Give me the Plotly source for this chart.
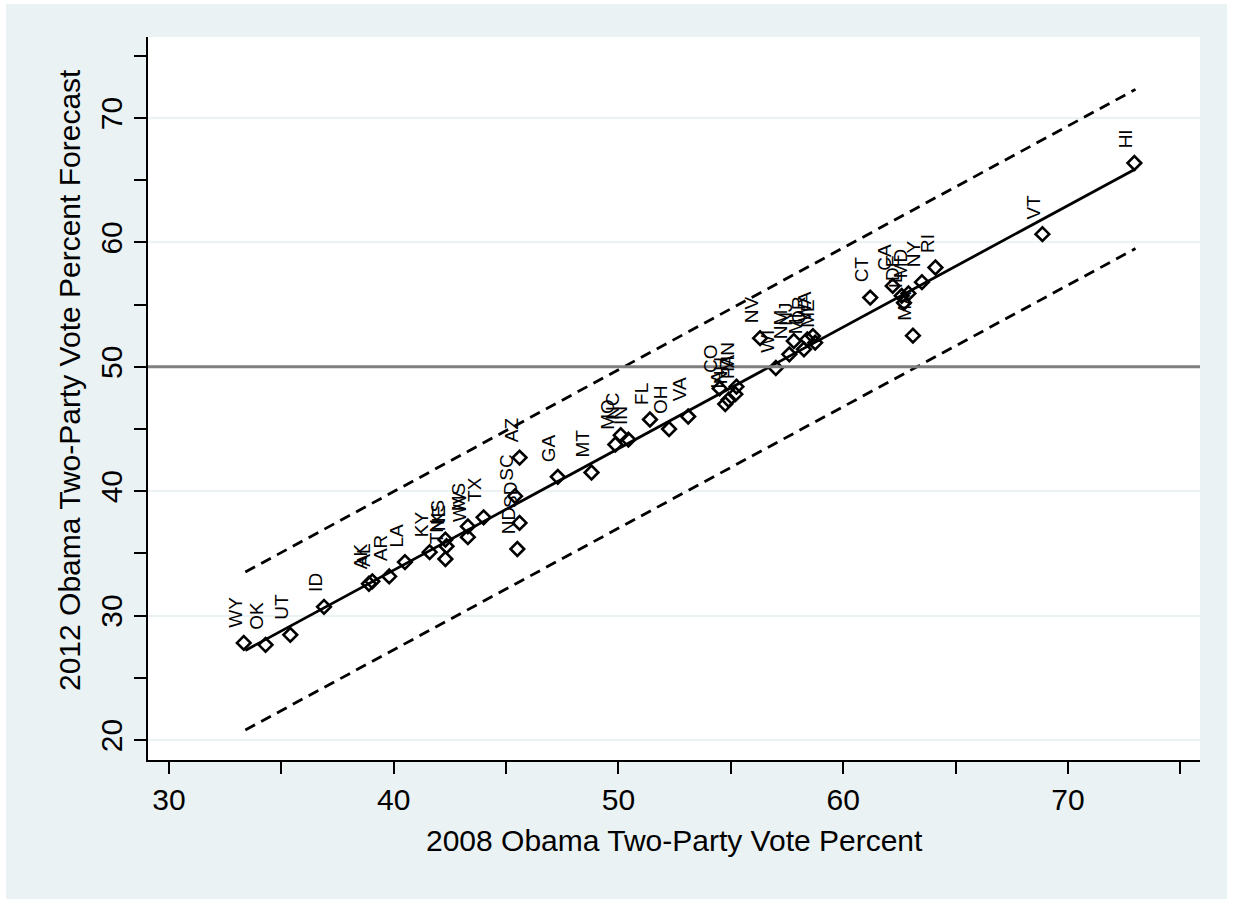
import plotly.graph_objects as go

# ---- data ----
states = ["WY", "OK", "UT", "ID", "AK", "AL", "AR", "LA", "KY", "KS", "NE", "TN",
          "MS", "WV", "TX", "ND", "SD", "SC", "AZ", "GA", "MT", "MO", "NC", "IN",
          "FL", "OH", "VA", "CO", "IA", "NH", "MN", "PA", "NV", "WI", "NM", "NJ",
          "MI", "OR", "WA", "ME", "CT", "CA", "DE", "IL", "MD", "MA", "NY", "RI",
          "VT", "HI"]
vote2008 = [33.33, 34.3, 35.4, 36.9, 38.9, 39.05, 39.8, 40.5, 41.6, 42.3, 42.35, 42.3,
            43.3, 43.3, 44.0, 45.5, 45.6, 45.4, 45.6, 47.3, 48.8, 49.86, 50.1, 50.44,
            51.4, 52.25, 53.1, 54.5, 54.75, 54.9, 55.25, 55.2, 56.3, 57.0, 57.6, 57.8,
            58.25, 58.4, 58.65, 58.75, 61.2, 62.2, 62.6, 62.7, 62.9, 63.1, 63.5, 64.1,
            68.86, 72.95]
forecast2012 = [27.8, 27.65, 28.45, 30.7, 32.56, 32.75, 33.15, 34.3, 35.1, 36.1, 35.57, 34.55,
                37.17, 36.3, 37.9, 35.35, 37.45, 39.6, 42.7, 41.15, 41.5, 43.75, 44.5, 44.15,
                45.76, 45.0, 46.0, 48.26, 47.0, 47.35, 48.4, 47.8, 52.3, 49.9, 51.0, 52.07,
                51.4, 52.2, 52.47, 51.94, 55.56, 56.5, 55.7, 55.15, 55.9, 52.5, 56.8, 57.98,
                60.66, 66.38]

# fitted line and dashed band (end points)
fit_x = [33.4, 73.0]
fit_y = [27.2, 65.9]
upper_y = [33.5, 72.3]
lower_y = [20.8, 59.5]
ref_line = 50

x_ticks = [30, 40, 50, 60, 70]
y_ticks = [20, 30, 40, 50, 60, 70]

BG = "#EAF2F3"
FONT = "Liberation Sans"
W, H = 1233, 903
L, R, T, B = 148, 33, 37, 143
PW, PH = W - L - R, H - T - B


def px_x(p):
    return (p - L) / PW


def px_y(p):
    return (H - B - p) / PH


fig = go.Figure()
for band in (upper_y, lower_y):
    fig.add_trace(go.Scatter(x=fit_x, y=band, mode="lines",
                             line=dict(color="black", width=2.8, dash="11px,7px"),
                             hoverinfo="skip", showlegend=False))
fig.add_trace(go.Scatter(x=fit_x, y=fit_y, mode="lines",
                         line=dict(color="black", width=2.8),
                         hoverinfo="skip", showlegend=False))
fig.add_trace(go.Scatter(x=vote2008, y=forecast2012, mode="markers",
                         marker=dict(symbol="diamond-open", size=10.5, color="black",
                                     line=dict(color="black", width=2.6)),
                         text=states, showlegend=False))

annotations = []
for s, xv, yv in zip(states, vote2008, forecast2012):
    annotations.append(dict(x=xv, y=yv, xref="x", yref="y", text=s, showarrow=False,
                            textangle=-90, xanchor="right", yanchor="bottom",
                            xshift=4, yshift=13,
                            font=dict(family=FONT, size=19, color="black")))

annotations.append(dict(x=0.5, y=px_y(840), xref="paper", yref="paper",
                        text="2008 Obama Two-Party Vote Percent", showarrow=False,
                        xanchor="center", yanchor="middle",
                        font=dict(family=FONT, size=30, color="black")))
annotations.append(dict(x=px_x(69), y=px_y(380), xref="paper", yref="paper",
                        text="2012 Obama Two-Party Vote Percent Forecast", showarrow=False,
                        textangle=-90, xanchor="center", yanchor="middle",
                        font=dict(family=FONT, size=30, color="black")))

shapes = [dict(type="line", xref="paper", yref="y", x0=0, x1=1, y0=ref_line, y1=ref_line,
               line=dict(color="#7f7f7f", width=3), layer="above")]
# thin white border around the outer region
for (a, b, c, d) in [(0, 6, 0, H), (W - 6, W, 0, H), (0, W, 0, 4), (0, W, H - 4, H)]:
    shapes.append(dict(type="rect", xref="paper", yref="paper",
                       x0=px_x(a), x1=px_x(b), y0=px_y(d), y1=px_y(c),
                       fillcolor="white", line=dict(width=0), layer="above"))

fig.update_layout(
    width=W, height=H,
    margin=dict(l=L, r=R, t=T, b=B, pad=0),
    paper_bgcolor=BG, plot_bgcolor="white",
    font=dict(family=FONT, color="black"),
    annotations=annotations, shapes=shapes,
    showlegend=False,
)
fig.update_xaxes(range=[29.07, 75.87], tickvals=x_ticks, ticks="outside", ticklen=12,
                 tickwidth=1.5, tickcolor="black", showgrid=False, zeroline=False,
                 showline=True, linecolor="black", linewidth=1.5,
                 tickfont=dict(family=FONT, size=30),
                 minor=dict(dtick=5, tick0=0, ticks="outside", ticklen=12, tickwidth=1.5,
                            tickcolor="black", showgrid=False))
fig.update_yaxes(range=[18.39, 76.51], tickvals=y_ticks, ticks="outside", ticklen=12,
                 tickwidth=1.5, tickcolor="black", showgrid=True, gridcolor=BG, gridwidth=2,
                 zeroline=False, showline=True, linecolor="black", linewidth=1.5,
                 tickangle=-90, tickfont=dict(family=FONT, size=30),
                 minor=dict(dtick=5, tick0=0, ticks="outside", ticklen=12, tickwidth=1.5,
                            tickcolor="black", showgrid=False))

fig.write_html("out.html", config={"displayModeBar": False},
               post_script="document.body.style.margin='0px';")
